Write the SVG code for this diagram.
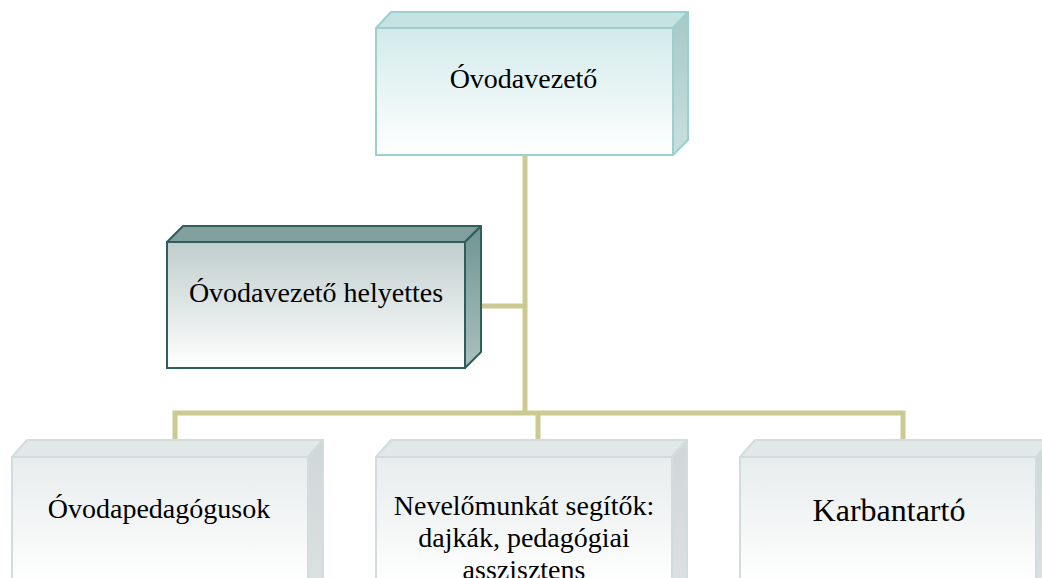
<svg xmlns="http://www.w3.org/2000/svg" width="1042" height="578" viewBox="0 0 1042 578">
<defs>
<linearGradient id="gTopFront" x1="0" y1="0" x2="0" y2="1"><stop offset="0" stop-color="#d2eaea"/><stop offset="1" stop-color="#ffffff"/></linearGradient>
<linearGradient id="gTopSide" x1="0" y1="0" x2="0" y2="1"><stop offset="0" stop-color="#a6c8c8"/><stop offset="1" stop-color="#c9dfdf"/></linearGradient>
<linearGradient id="gDepFront" x1="0" y1="0" x2="0" y2="1"><stop offset="0" stop-color="#bfcdcc"/><stop offset="1" stop-color="#ffffff"/></linearGradient>
<linearGradient id="gDepSide" x1="0" y1="0" x2="0" y2="1"><stop offset="0" stop-color="#6f9593"/><stop offset="1" stop-color="#abc0bf"/></linearGradient>
<linearGradient id="gLowFront" x1="0" y1="0" x2="0" y2="1"><stop offset="0" stop-color="#e7ecec"/><stop offset="0.8" stop-color="#ffffff"/></linearGradient>
<linearGradient id="gLowSide" x1="0" y1="0" x2="0" y2="1"><stop offset="0" stop-color="#d0d7d7"/><stop offset="1" stop-color="#dde2e2"/></linearGradient>
</defs>
<style>
.t{font-family:"Liberation Serif","Times New Roman",serif;font-size:28px;fill:#000;text-anchor:middle}
.c{fill:none;stroke:#cbca93;stroke-width:5}
.topF{fill:url(#gTopFront);stroke:#9dcfcf;stroke-width:2}
.topT{fill:#c6e3e3;stroke:#9dcfcf;stroke-width:2;stroke-linejoin:round}
.topS{fill:url(#gTopSide);stroke:#9dcfcf;stroke-width:2;stroke-linejoin:round}
.depF{fill:url(#gDepFront);stroke:#2f5f5d;stroke-width:2}
.depT{fill:#809f9d;stroke:#2f5f5d;stroke-width:2;stroke-linejoin:round}
.depS{fill:url(#gDepSide);stroke:#2f5f5d;stroke-width:2;stroke-linejoin:round}
.lowF{fill:url(#gLowFront);stroke:#d3dcdc;stroke-width:2}
.lowT{fill:#e2e7e7;stroke:#d3dcdc;stroke-width:2;stroke-linejoin:round}
.lowS{fill:url(#gLowSide);stroke:#d3dcdc;stroke-width:2;stroke-linejoin:round}
</style>
<rect width="1042" height="578" fill="#ffffff"/>
<g id="connectors">
<path class="c" d="M525 155 V413"/>
<path class="c" d="M481 306 H525"/>
<path class="c" d="M175 441 V413 H903 V441"/>
<path class="c" d="M538 413 V441"/>
</g>
<g id="ovodavezeto">
<polygon class="topT" points="376,28 391,12 688,12 673,28"/>
<polygon class="topS" points="673,28 688,12 688,140 673,155"/>
<rect class="topF" x="376" y="28" width="297" height="127"/>
<text class="t" x="523.5" y="88">Óvodavezető</text>
</g>
<g id="helyettes">
<polygon class="depT" points="167,242 183,226 481,226 465,242"/>
<polygon class="depS" points="465,242 481,226 481,352 465,368"/>
<rect class="depF" x="167" y="242" width="298" height="126"/>
<text class="t" x="316" y="302">Óvodavezető helyettes</text>
</g>
<g id="pedagogusok">
<polygon class="lowT" points="12,457 27,440 323,440 308,457"/>
<polygon class="lowS" points="308,457 323,440 323,600 308,610"/>
<rect class="lowF" x="12" y="457" width="296" height="160"/>
<text class="t" x="159" y="518">Óvodapedagógusok</text>
</g>
<g id="nevelo">
<polygon class="lowT" points="376,457 391,440 687,440 672,457"/>
<polygon class="lowS" points="672,457 687,440 687,600 672,610"/>
<rect class="lowF" x="376" y="457" width="296" height="160"/>
<text class="t" x="524" y="515">Nevelőmunkát segítők:</text>
<text class="t" x="524" y="547">dajkák, pedagógiai</text>
<text class="t" x="524" y="579">asszisztens</text>
</g>
<g id="karbantarto">
<polygon class="lowT" points="740,457 755,440 1051,440 1036,457"/>
<polygon class="lowS" points="1036,457 1051,440 1051,600 1036,610"/>
<rect class="lowF" x="740" y="457" width="296" height="160"/>
<text class="t" x="889" y="521" style="font-size:32px">Karbantartó</text>
</g>
</svg>
